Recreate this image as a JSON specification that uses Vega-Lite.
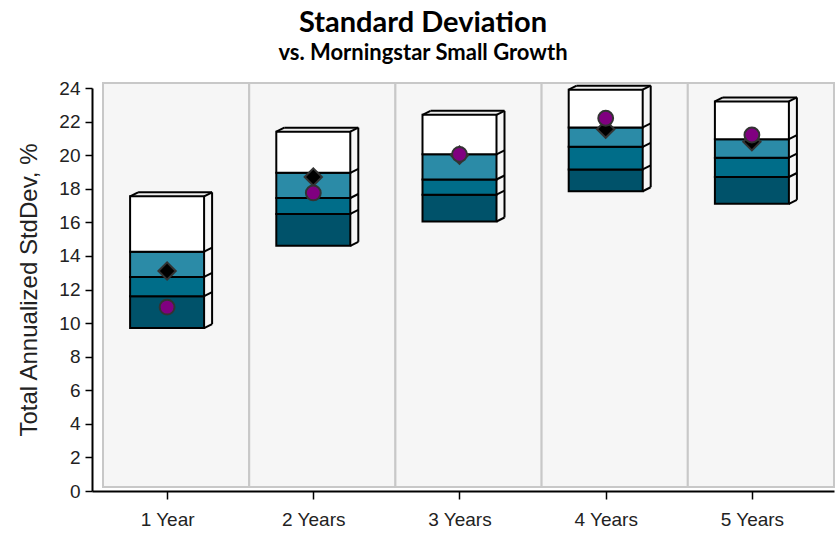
{
  "$schema": "https://vega.github.io/schema/vega-lite/v6.json",
  "width": 742,
  "height": 403,
  "autosize": {"type": "none"},
  "padding": {"left": 92, "top": 88, "right": 2, "bottom": 43},
  "background": "#ffffff",
  "title": {
    "text": "Standard Deviation",
    "subtitle": "vs. Morningstar Small Growth",
    "anchor": "middle",
    "frame": "group",
    "dx": -40,
    "offset": 15,
    "font": "Lato",
    "fontSize": 29,
    "fontWeight": "bold",
    "color": "#000000",
    "subtitleFont": "Lato",
    "subtitleFontSize": 22,
    "subtitleFontWeight": "bold",
    "subtitleColor": "#000000",
    "subtitlePadding": 5
  },
  "config": {
    "view": {"stroke": null},
    "font": "Liberation Sans, Arial"
  },
  "datasets": {
    "segments": [
      {"period": "1 Year", "segment": "Q1", "low": 9.7, "high": 11.6},
      {"period": "1 Year", "segment": "Q2", "low": 11.6, "high": 12.75},
      {"period": "1 Year", "segment": "Q3", "low": 12.75, "high": 14.25},
      {"period": "1 Year", "segment": "Q4", "low": 14.25, "high": 17.55},
      {"period": "2 Years", "segment": "Q1", "low": 14.6, "high": 16.5},
      {"period": "2 Years", "segment": "Q2", "low": 16.5, "high": 17.45},
      {"period": "2 Years", "segment": "Q3", "low": 17.45, "high": 18.95},
      {"period": "2 Years", "segment": "Q4", "low": 18.95, "high": 21.4},
      {"period": "3 Years", "segment": "Q1", "low": 16.05, "high": 17.65},
      {"period": "3 Years", "segment": "Q2", "low": 17.65, "high": 18.55},
      {"period": "3 Years", "segment": "Q3", "low": 18.55, "high": 20.05},
      {"period": "3 Years", "segment": "Q4", "low": 20.05, "high": 22.4},
      {"period": "4 Years", "segment": "Q1", "low": 17.85, "high": 19.15},
      {"period": "4 Years", "segment": "Q2", "low": 19.15, "high": 20.5},
      {"period": "4 Years", "segment": "Q3", "low": 20.5, "high": 21.65},
      {"period": "4 Years", "segment": "Q4", "low": 21.65, "high": 23.9},
      {"period": "5 Years", "segment": "Q1", "low": 17.1, "high": 18.7},
      {"period": "5 Years", "segment": "Q2", "low": 18.7, "high": 19.85},
      {"period": "5 Years", "segment": "Q3", "low": 19.85, "high": 20.95},
      {"period": "5 Years", "segment": "Q4", "low": 20.95, "high": 23.2}
    ],
    "markers": [
      {"period": "1 Year", "series": "Fund", "value": 13.1},
      {"period": "2 Years", "series": "Fund", "value": 18.7},
      {"period": "3 Years", "series": "Fund", "value": 20.0},
      {"period": "4 Years", "series": "Fund", "value": 21.55},
      {"period": "5 Years", "series": "Fund", "value": 20.8},
      {"period": "1 Year", "series": "Benchmark", "value": 10.95},
      {"period": "2 Years", "series": "Benchmark", "value": 17.75},
      {"period": "3 Years", "series": "Benchmark", "value": 20.05},
      {"period": "4 Years", "series": "Benchmark", "value": 22.2},
      {"period": "5 Years", "series": "Benchmark", "value": 21.2}
    ]
  },
  "encoding": {
    "x": {
      "field": "period",
      "type": "nominal",
      "sort": ["1 Year", "2 Years", "3 Years", "4 Years", "5 Years"],
      "scale": {"paddingInner": 0, "paddingOuter": 0.0376, "align": 1},
      "axis": {
        "title": null,
        "labelAngle": 0,
        "labelFont": "Liberation Sans, Arial",
        "labelFontSize": 19,
        "labelColor": "#222222",
        "labelPadding": 11,
        "domainColor": "#000000",
        "domainWidth": 2,
        "tickColor": "#000000",
        "tickWidth": 1.5,
        "tickSize": 8,
        "tickOffset": -9,
        "grid": false
      }
    }
  },
  "layer": [
    {
      "data": {"name": "segments"},
      "transform": [{"filter": "datum.segment == 'Q1'"}],
      "mark": {"type": "rect", "fill": "#f6f6f6", "stroke": "#c8c8c8", "strokeWidth": 2, "yOffset": -5, "y2Offset": -4},
      "encoding": {
        "y": {"datum": 24, "type": "quantitative", "scale": {"domain": [0, 24], "nice": false, "zero": true}},
        "y2": {"datum": 0}
      }
    },
    {
      "data": {"name": "segments"},
      "mark": {"type": "bar", "width": 8, "xOffset": 24, "yOffset": -2, "y2Offset": -2},
      "encoding": {
        "y": {"field": "low", "type": "quantitative"},
        "y2": {"field": "high"},
        "color": {"field": "segment", "type": "nominal", "legend": null,
          "scale": {"domain": ["Q1", "Q2", "Q3", "Q4"], "range": ["#00526a", "#006d89", "#2b8ba7", "#ffffff"]}}
      }
    },
    {
      "data": {"name": "segments"},
      "transform": [{"filter": "datum.segment == 'Q4'"}],
      "mark": {"type": "bar", "width": 74, "xOffset": -5, "fill": "#eeeeee", "yOffset": -4, "y2Offset": 0},
      "encoding": {
        "y": {"field": "high", "type": "quantitative"},
        "y2": {"field": "high"}
      }
    },
    {
      "data": {"name": "segments"},
      "mark": {"type": "bar", "width": 74, "xOffset": -9, "stroke": "#000000", "strokeWidth": 2},
      "encoding": {
        "y": {"field": "low", "type": "quantitative",
          "axis": {
            "title": "Total Annualized StdDev, %",
            "titleFont": "Liberation Sans, Arial",
            "titleFontSize": 24,
            "titleFontWeight": "normal",
            "titleColor": "#222222",
            "titlePadding": 17,
            "tickCount": 12,
            "tickMinStep": 2,
            "labelOverlap": false,
            "labelFlush": false,
            "labelFont": "Liberation Sans, Arial",
            "labelFontSize": 19,
            "labelColor": "#222222",
            "labelPadding": 5,
            "domainColor": "#000000",
            "domainWidth": 2,
            "tickColor": "#000000",
            "tickWidth": 1.5,
            "tickSize": 7,
            "grid": false
          }
        },
        "y2": {"field": "high"},
        "color": {"field": "segment", "type": "nominal", "legend": null}
      }
    },
    {
      "data": {"name": "segments"},
      "mark": {"type": "rule", "color": "#000000", "strokeWidth": 2, "xOffset": 28, "x2Offset": 36, "yOffset": 0, "y2Offset": -4},
      "encoding": {
        "x2": {"field": "period"},
        "y": {"field": "high", "type": "quantitative"},
        "y2": {"field": "high"}
      }
    },
    {
      "data": {"name": "segments"},
      "transform": [{"filter": "datum.segment == 'Q1'"}],
      "mark": {"type": "rule", "color": "#000000", "strokeWidth": 2, "xOffset": 28, "x2Offset": 36, "yOffset": 0, "y2Offset": -4},
      "encoding": {
        "x2": {"field": "period"},
        "y": {"field": "low", "type": "quantitative"},
        "y2": {"field": "low"}
      }
    },
    {
      "data": {"name": "segments"},
      "mark": {"type": "rule", "color": "#000000", "strokeWidth": 2, "xOffset": 36, "yOffset": -4, "y2Offset": -4},
      "encoding": {
        "y": {"aggregate": "min", "field": "low", "type": "quantitative"},
        "y2": {"aggregate": "max", "field": "high"}
      }
    },
    {
      "data": {"name": "segments"},
      "transform": [{"filter": "datum.segment == 'Q4'"}],
      "mark": {"type": "rule", "color": "#000000", "strokeWidth": 2, "xOffset": -38, "x2Offset": 36, "yOffset": -4, "y2Offset": -4},
      "encoding": {
        "x2": {"field": "period"},
        "y": {"field": "high", "type": "quantitative"},
        "y2": {"field": "high"}
      }
    },
    {
      "data": {"name": "segments"},
      "transform": [{"filter": "datum.segment == 'Q4'"}],
      "mark": {"type": "rule", "color": "#000000", "strokeWidth": 2, "xOffset": -46, "x2Offset": -38, "yOffset": 0, "y2Offset": -4},
      "encoding": {
        "x2": {"field": "period"},
        "y": {"field": "high", "type": "quantitative"},
        "y2": {"field": "high"}
      }
    },
    {
      "data": {"name": "markers"},
      "transform": [{"filter": "datum.series == 'Fund'"}],
      "mark": {"type": "point", "shape": "diamond", "filled": true, "fill": "#000000", "stroke": "#333333", "strokeWidth": 2, "size": 300, "opacity": 1, "xOffset": -9},
      "encoding": {
        "y": {"field": "value", "type": "quantitative"}
      }
    },
    {
      "data": {"name": "markers"},
      "transform": [{"filter": "datum.series == 'Benchmark'"}],
      "mark": {"type": "point", "shape": "circle", "filled": true, "fill": "#800080", "stroke": "#333333", "strokeWidth": 2, "size": 220, "opacity": 1, "xOffset": -9},
      "encoding": {
        "y": {"field": "value", "type": "quantitative"}
      }
    }
  ]
}
